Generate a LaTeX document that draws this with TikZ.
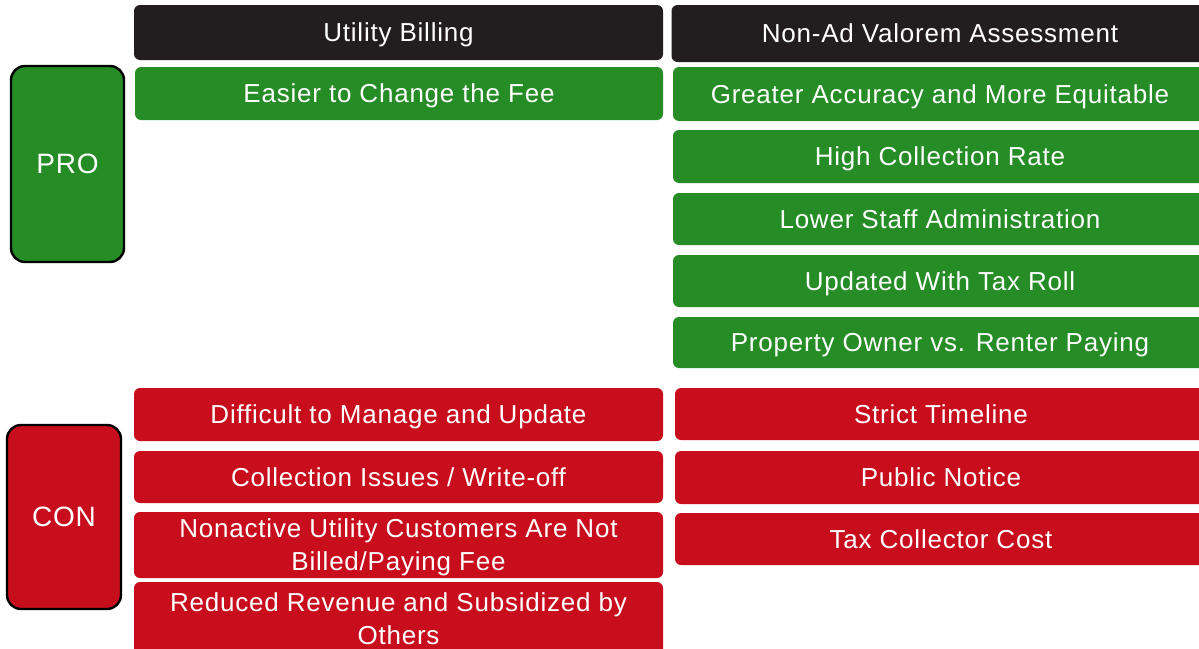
\documentclass[tikz,border=0pt]{standalone}
\usepackage{fontspec}
\setmainfont[LetterSpace=3]{Liberation Sans}
\usepackage{tikz}
\usetikzlibrary{positioning}
\definecolor{mgreen}{RGB}{38, 140, 38}
\definecolor{mred}{RGB}{200, 14, 28}
\definecolor{mblack}{RGB}{34, 30, 32}
\tikzset{
  cell/.style = {rounded corners = 6, text = white, align = center,
                 inner sep = 0, text depth = 0,
                 font = \fontsize{26}{33}\selectfont},
  hdr/.style = {cell, fill = mblack},
  pro/.style = {cell, fill = mgreen},
  con/.style = {cell, fill = mred},
  side/.style = {cell, draw = black, line width = 2.4, rounded corners = 14,
                 font = \fontsize{28}{32}\selectfont}
}

\begin{document}
\begin{tikzpicture}[x=1pt, y=-1pt]
    \useasboundingbox [fill = white] (0, 0) rectangle (1199, 648);

    % column heads
    \node [hdr, minimum width = 529, minimum height = 55] (billing) at (398.5, 32.5) {Utility Billing};
    \node [hdr, minimum width = 537, minimum height = 57] (assess) at (940, 33.5) {Non-Ad Valorem Assessment};

    % row heads
    \node [side, fill = mgreen, minimum width = 113, minimum height = 196] (prohead) at (67.5, 164) {PRO};
    \node [side, fill = mred, minimum width = 114, minimum height = 184] (conhead) at (64, 517) {CON};

    % utility billing
    \node [pro, minimum width = 528, minimum height = 53] (bpro) at (399, 93.5) {Easier to Change the Fee};
    \node [con, minimum width = 529, minimum height = 53] (bconA) at (398.5, 414.5) {Difficult to Manage and Update};
    \node [con, minimum width = 529, minimum height = 52] (bconB) at (398.5, 477) {Collection Issues / Write-off};
    \node [con, minimum width = 529, minimum height = 66] (bconC) at (398.5, 545) {Nonactive Utility Customers Are Not\\Billed/Paying Fee};
    \node [con, minimum width = 529, minimum height = 74] (bconD) at (398.5, 619) {Reduced Revenue and Subsidized by\\Others};

    % non-ad valorem assessment
    \node [pro, minimum width = 534, minimum height = 54] (aproA) at (940, 94) {Greater Accuracy and More Equitable};
    \node [pro, minimum width = 534, minimum height = 53] (aproB) at (940, 156.5) {High Collection Rate};
    \node [pro, minimum width = 534, minimum height = 52] (aproC) at (940, 219) {Lower Staff Administration};
    \node [pro, minimum width = 534, minimum height = 52] (aproD) at (940, 281) {Updated With Tax Roll};
    \node [pro, minimum width = 534, minimum height = 51] (aproE) at (940, 342.5) {Property Owner vs. Renter Paying};
    \node [con, minimum width = 532, minimum height = 52] (aconA) at (941, 414) {Strict Timeline};
    \node [con, minimum width = 532, minimum height = 53] (aconB) at (941, 477.5) {Public Notice};
    \node [con, minimum width = 532, minimum height = 52] (aconC) at (941, 539) {Tax Collector Cost};
\end{tikzpicture}
\end{document}
